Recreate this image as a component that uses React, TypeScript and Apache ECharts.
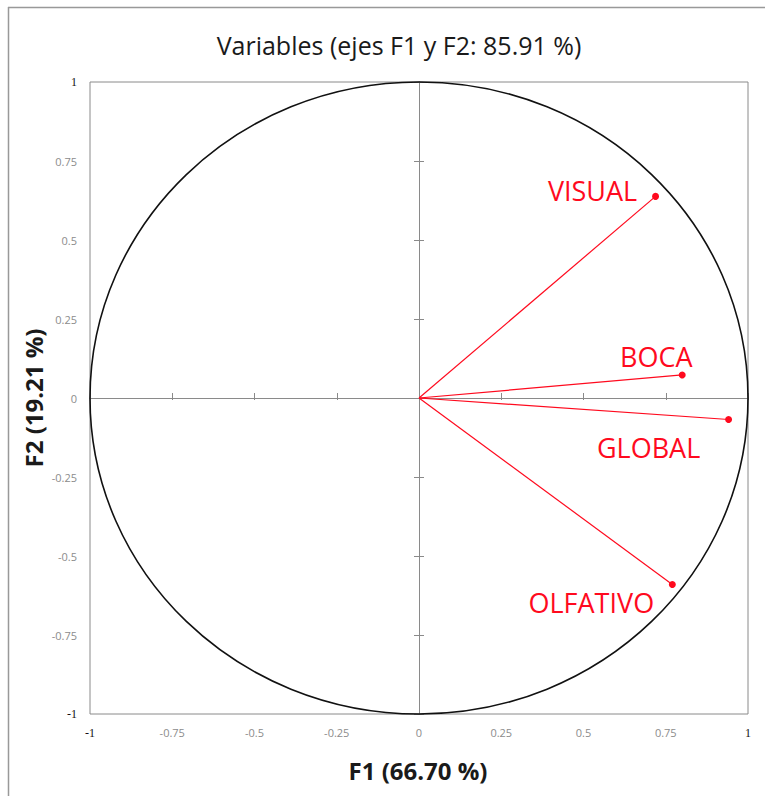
import React, { useEffect, useRef } from "react";
import * as echarts from "echarts";

const variables = ["VISUAL", "BOCA", "GLOBAL", "OLFATIVO"];
const f1Values = [0.719, 0.8, 0.941, 0.77];
const f2Values = [0.638, 0.073, -0.068, -0.59];
const labelOffsets: [number, number][] = [
  [-63, -6],
  [-26, -18],
  [-80, 28],
  [-81, 18],
];
const tickInterval = 0.25;
const axisMin = -1;
const axisMax = 1;

const titleText = "Variables (ejes F1 y F2: 85.91 %)";
const xTitle = "F1 (66.70 %)";
const yTitle = "F2 (19.21 %)";

const RED = "#ff0a1e";
const AXIS_GRAY = "#8a8a8a";

function fmt(v: number) {
  if (Math.abs(v) === 1) return "{b|" + v + "}";
  return "{a|" + v + "}";
}

export default function App() {
  const ref = useRef<HTMLDivElement>(null);
  useEffect(() => {
    if (!ref.current) return;
    const chart = echarts.init(ref.current, undefined, { renderer: "svg" });
    const richLabels = {
      a: { color: "#8c8c8c", fontSize: 11, fontFamily: "Open Sans" },
      b: { color: "#111", fontSize: 12, fontFamily: "Liberation Serif" },
    };
    const baseAxis = {
      type: "value",
      min: axisMin,
      max: axisMax,
      interval: tickInterval,
      splitLine: { show: false },
    };
    const zeroAxis = (pos: string, inside: boolean, len: number, showLine: boolean) => ({
      ...baseAxis,
      position: pos,
      axisLine: { show: showLine, onZero: true, onZeroAxisIndex: 0, lineStyle: { color: AXIS_GRAY, width: 1 } },
      axisTick: { show: true, inside, length: len, lineStyle: { color: AXIS_GRAY } },
      axisLabel: { show: false },
    });
    chart.setOption({
      animation: false,
      backgroundColor: "#fff",
      title: {
        text: titleText,
        left: 394,
        textAlign: "center",
        top: 27,
        textStyle: {
          fontFamily: "Open Sans",
          fontSize: 25,
          fontWeight: "normal",
          color: "#1a1a1a",
        },
      },
      grid: {
        left: 90,
        right: 17,
        top: 82,
        bottom: 82,
        show: true,
        borderColor: AXIS_GRAY,
        borderWidth: 1,
        containLabel: false,
      },
      xAxis: [
        {
          ...baseAxis,
          position: "bottom",
          axisLine: { show: false, onZero: false },
          axisTick: { show: false },
          axisLabel: { margin: 13, formatter: fmt, rich: richLabels },
        },
        zeroAxis("bottom", true, 5, true),
        zeroAxis("bottom", false, 2, false),
      ],
      yAxis: [
        {
          ...baseAxis,
          position: "left",
          axisLine: { show: false, onZero: false },
          axisTick: { show: false },
          axisLabel: { margin: 13, formatter: fmt, rich: richLabels },
        },
        zeroAxis("left", true, 5, true),
        zeroAxis("left", false, 5, false),
      ],
      graphic: [
        {
          type: "line",
          shape: { x1: 8, y1: 7.5, x2: 765, y2: 7.5 },
          style: { stroke: "#999", lineWidth: 1.5 },
        },
        {
          type: "line",
          shape: { x1: 8.5, y1: 7, x2: 8.5, y2: 796 },
          style: { stroke: "#999", lineWidth: 1.5 },
        },
        {
          type: "text",
          x: 418,
          y: 770,
          style: {
            text: xTitle,
            fontFamily: "Open Sans",
            fontSize: 24,
            fontWeight: "bold",
            fill: "#1a1a1a",
            textAlign: "center",
            textVerticalAlign: "middle",
          },
        },
        {
          type: "text",
          x: 33,
          y: 398,
          rotation: Math.PI / 2,
          style: {
            text: yTitle,
            fontFamily: "Open Sans",
            fontSize: 24,
            fontWeight: "bold",
            fill: "#1a1a1a",
            textAlign: "center",
            textVerticalAlign: "middle",
          },
        },
      ],
      series: [
        {
          type: "custom",
          xAxisIndex: 0,
          yAxisIndex: 0,
          silent: true,
          data: [[0, 0]],
          renderItem: (params: any, api: any) => {
            const c = api.coord([0, 0]);
            const r = api.coord([1, 1]);
            return {
              type: "ellipse",
              shape: { cx: c[0], cy: c[1], rx: r[0] - c[0], ry: c[1] - r[1] },
              style: { fill: "none", stroke: "#111", lineWidth: 1.6 },
            };
          },
        },
        ...variables.map((name, i) => ({
          type: "line",
          name,
          xAxisIndex: 0,
          yAxisIndex: 0,
          silent: true,
          showSymbol: false,
          symbol: "none",
          lineStyle: { color: RED, width: 1.2, opacity: 1 },
          data: [
            [0, 0],
            [f1Values[i], f2Values[i]],
          ],
        })),
        {
          type: "scatter",
          xAxisIndex: 0,
          yAxisIndex: 0,
          symbol: "circle",
          symbolSize: 7,
          itemStyle: { color: RED, opacity: 1 },
          data: variables.map((name, i) => ({
            name,
            value: [f1Values[i], f2Values[i]],
            label: {
              show: true,
              position: "inside",
              offset: labelOffsets[i],
              formatter: name,
              color: RED,
              fontFamily: "Open Sans",
              fontSize: 27,
            },
          })),
        },
      ],
    });
    return () => chart.dispose();
  }, []);
  return <div ref={ref} style={{ width: 765, height: 796, position: "absolute", left: 0, top: 0 }} />;
}
